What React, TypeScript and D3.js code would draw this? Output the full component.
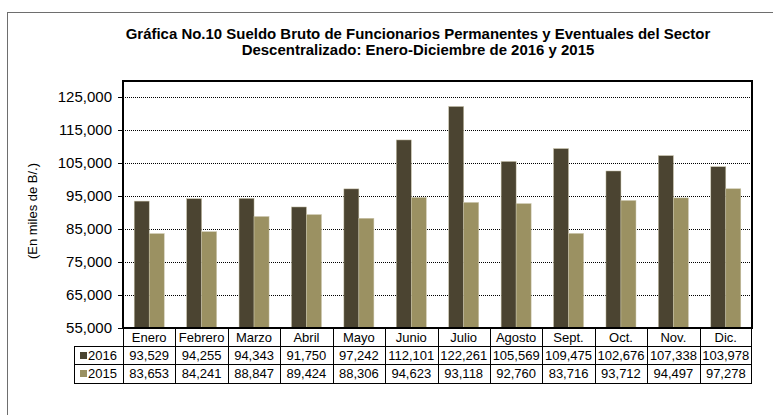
import React, { useEffect, useRef } from 'react';
import * as d3 from 'd3';

const months = ['Enero', 'Febrero', 'Marzo', 'Abril', 'Mayo', 'Junio', 'Julio', 'Agosto', 'Sept.', 'Oct.', 'Nov.', 'Dic.'];
const series = ['2016', '2015'];
const values2016 = [93529, 94255, 94343, 91750, 97242, 112101, 122261, 105569, 109475, 102676, 107338, 103978];
const values2015 = [83653, 84241, 88847, 89424, 88306, 94623, 93118, 92760, 83716, 93712, 94497, 97278];
const yTicks = [55000, 65000, 75000, 85000, 95000, 105000, 115000, 125000];
const titleLines = [
    'Gráfica No.10 Sueldo Bruto de Funcionarios Permanentes y Eventuales del Sector',
    'Descentralizado: Enero-Diciembre de 2016 y 2015'
];
const yLabel = '(En miles de B/.)';

const colors = ['#4b4431', '#9b9162'];
const font = '"Liberation Sans", Arial, sans-serif';

export default function App() {
    const ref = useRef<SVGSVGElement | null>(null);

    useEffect(() => {
        if (!ref.current) return;
        const svg = d3.select(ref.current);
        svg.selectAll('*').remove();

        const left = 123, right = 752, top = 81, bottom = 328;
        const rowH = [328, 346, 364, 383];
        const legendLeft = 74;

        const x = d3.scaleBand<string>().domain(months).range([left, right]);
        const bw = x.bandwidth();
        const barW = 15;
        const x1 = d3.scaleBand<string>().domain(series).range([bw / 2 - barW, bw / 2 + barW]);
        const y = d3.scaleLinear().domain([55000, 130000]).range([bottom, top]);

        // outer frame
        svg.append('rect')
            .attr('x', 7.5).attr('y', 12.5).attr('width', 900).attr('height', 600)
            .attr('fill', 'none').attr('stroke', '#6e6e6e').attr('stroke-width', 1);

        // title (slightly widened like the original export)
        svg.append('g').selectAll('text').data(titleLines).enter().append('text')
            .attr('transform', (d, i) => `translate(418,${39 + i * 16}) scale(1.07,1)`)
            .attr('text-anchor', 'middle')
            .style('font-family', font).style('font-size', '14px').style('font-weight', 'bold')
            .text(d => d);

        // gridlines
        svg.append('g').selectAll('line').data(yTicks.filter(t => t > 55000)).enter().append('line')
            .attr('x1', left).attr('x2', right)
            .attr('y1', d => Math.round(y(d)) + 0.5).attr('y2', d => Math.round(y(d)) + 0.5)
            .attr('stroke', '#000').attr('stroke-width', 1).attr('stroke-dasharray', '1,1');

        // y axis ticks + labels
        const yg = svg.append('g');
        yg.selectAll('line').data(yTicks).enter().append('line')
            .attr('x1', left - 5).attr('x2', left)
            .attr('y1', d => Math.round(y(d)) + 0.5).attr('y2', d => Math.round(y(d)) + 0.5)
            .attr('stroke', '#000');
        yg.selectAll('text').data(yTicks).enter().append('text')
            .attr('x', left - 11).attr('y', d => y(d) + 5)
            .attr('text-anchor', 'end')
            .style('font-family', font).style('font-size', '15px')
            .text(d => d3.format(',')(d));

        svg.append('text')
            .attr('transform', 'translate(37,211) rotate(-90)')
            .attr('text-anchor', 'middle')
            .style('font-family', font).style('font-size', '13px')
            .text(yLabel);

        // bars
        const data = [values2016, values2015];
        data.forEach((vals, si) => {
            svg.append('g').selectAll('rect').data(vals).enter().append('rect')
                .attr('x', (d, i) => (x(months[i]) as number) + (x1(series[si]) as number))
                .attr('width', barW)
                .attr('y', d => y(d))
                .attr('height', d => bottom - y(d))
                .attr('fill', colors[si])
                .attr('stroke', '#c9c4aa').attr('stroke-width', 0.5);
        });

        // plot frame
        svg.append('rect')
            .attr('x', left).attr('y', top).attr('width', right - left).attr('height', bottom - top)
            .attr('fill', 'none').attr('stroke', '#000').attr('stroke-width', 2);

        // data table
        const tg = svg.append('g').attr('stroke', '#000').attr('stroke-width', 1);
        [rowH[1], rowH[2], rowH[3]].forEach(yy => {
            tg.append('line').attr('x1', legendLeft).attr('x2', right).attr('y1', yy + 0.5).attr('y2', yy + 0.5);
        });
        tg.append('line').attr('x1', legendLeft + 0.5).attr('x2', legendLeft + 0.5).attr('y1', rowH[1]).attr('y2', rowH[3]);
        months.forEach(m => {
            const xx = Math.round(x(m) as number) + 0.5;
            tg.append('line').attr('x1', xx).attr('x2', xx).attr('y1', rowH[0]).attr('y2', rowH[3]);
        });
        tg.append('line').attr('x1', right - 0.5).attr('x2', right - 0.5).attr('y1', rowH[0]).attr('y2', rowH[3]);

        svg.append('g').selectAll('text').data(months).enter().append('text')
            .attr('x', d => (x(d) as number) + bw / 2).attr('y', rowH[0] + 14)
            .attr('text-anchor', 'middle')
            .style('font-family', font).style('font-size', '13px')
            .text(d => d);

        data.forEach((vals, si) => {
            const rowTop = rowH[si + 1];
            svg.append('g').selectAll('text').data(vals).enter().append('text')
                .attr('x', (d, i) => (x(months[i]) as number) + bw / 2).attr('y', rowTop + 14)
                .attr('text-anchor', 'middle')
                .style('font-family', font).style('font-size', '13px')
                .text(d => d3.format(',')(d));
            svg.append('rect')
                .attr('x', 80).attr('y', rowTop + 6).attr('width', 7).attr('height', 7)
                .attr('fill', colors[si]);
            svg.append('text')
                .attr('x', 88).attr('y', rowTop + 14)
                .style('font-family', font).style('font-size', '13px')
                .text(series[si]);
        });
    }, []);

    return (
        <svg ref={ref} width={773} height={415}
            style={{ position: 'absolute', left: 0, top: 0, background: '#fff' }} />
    );
}
